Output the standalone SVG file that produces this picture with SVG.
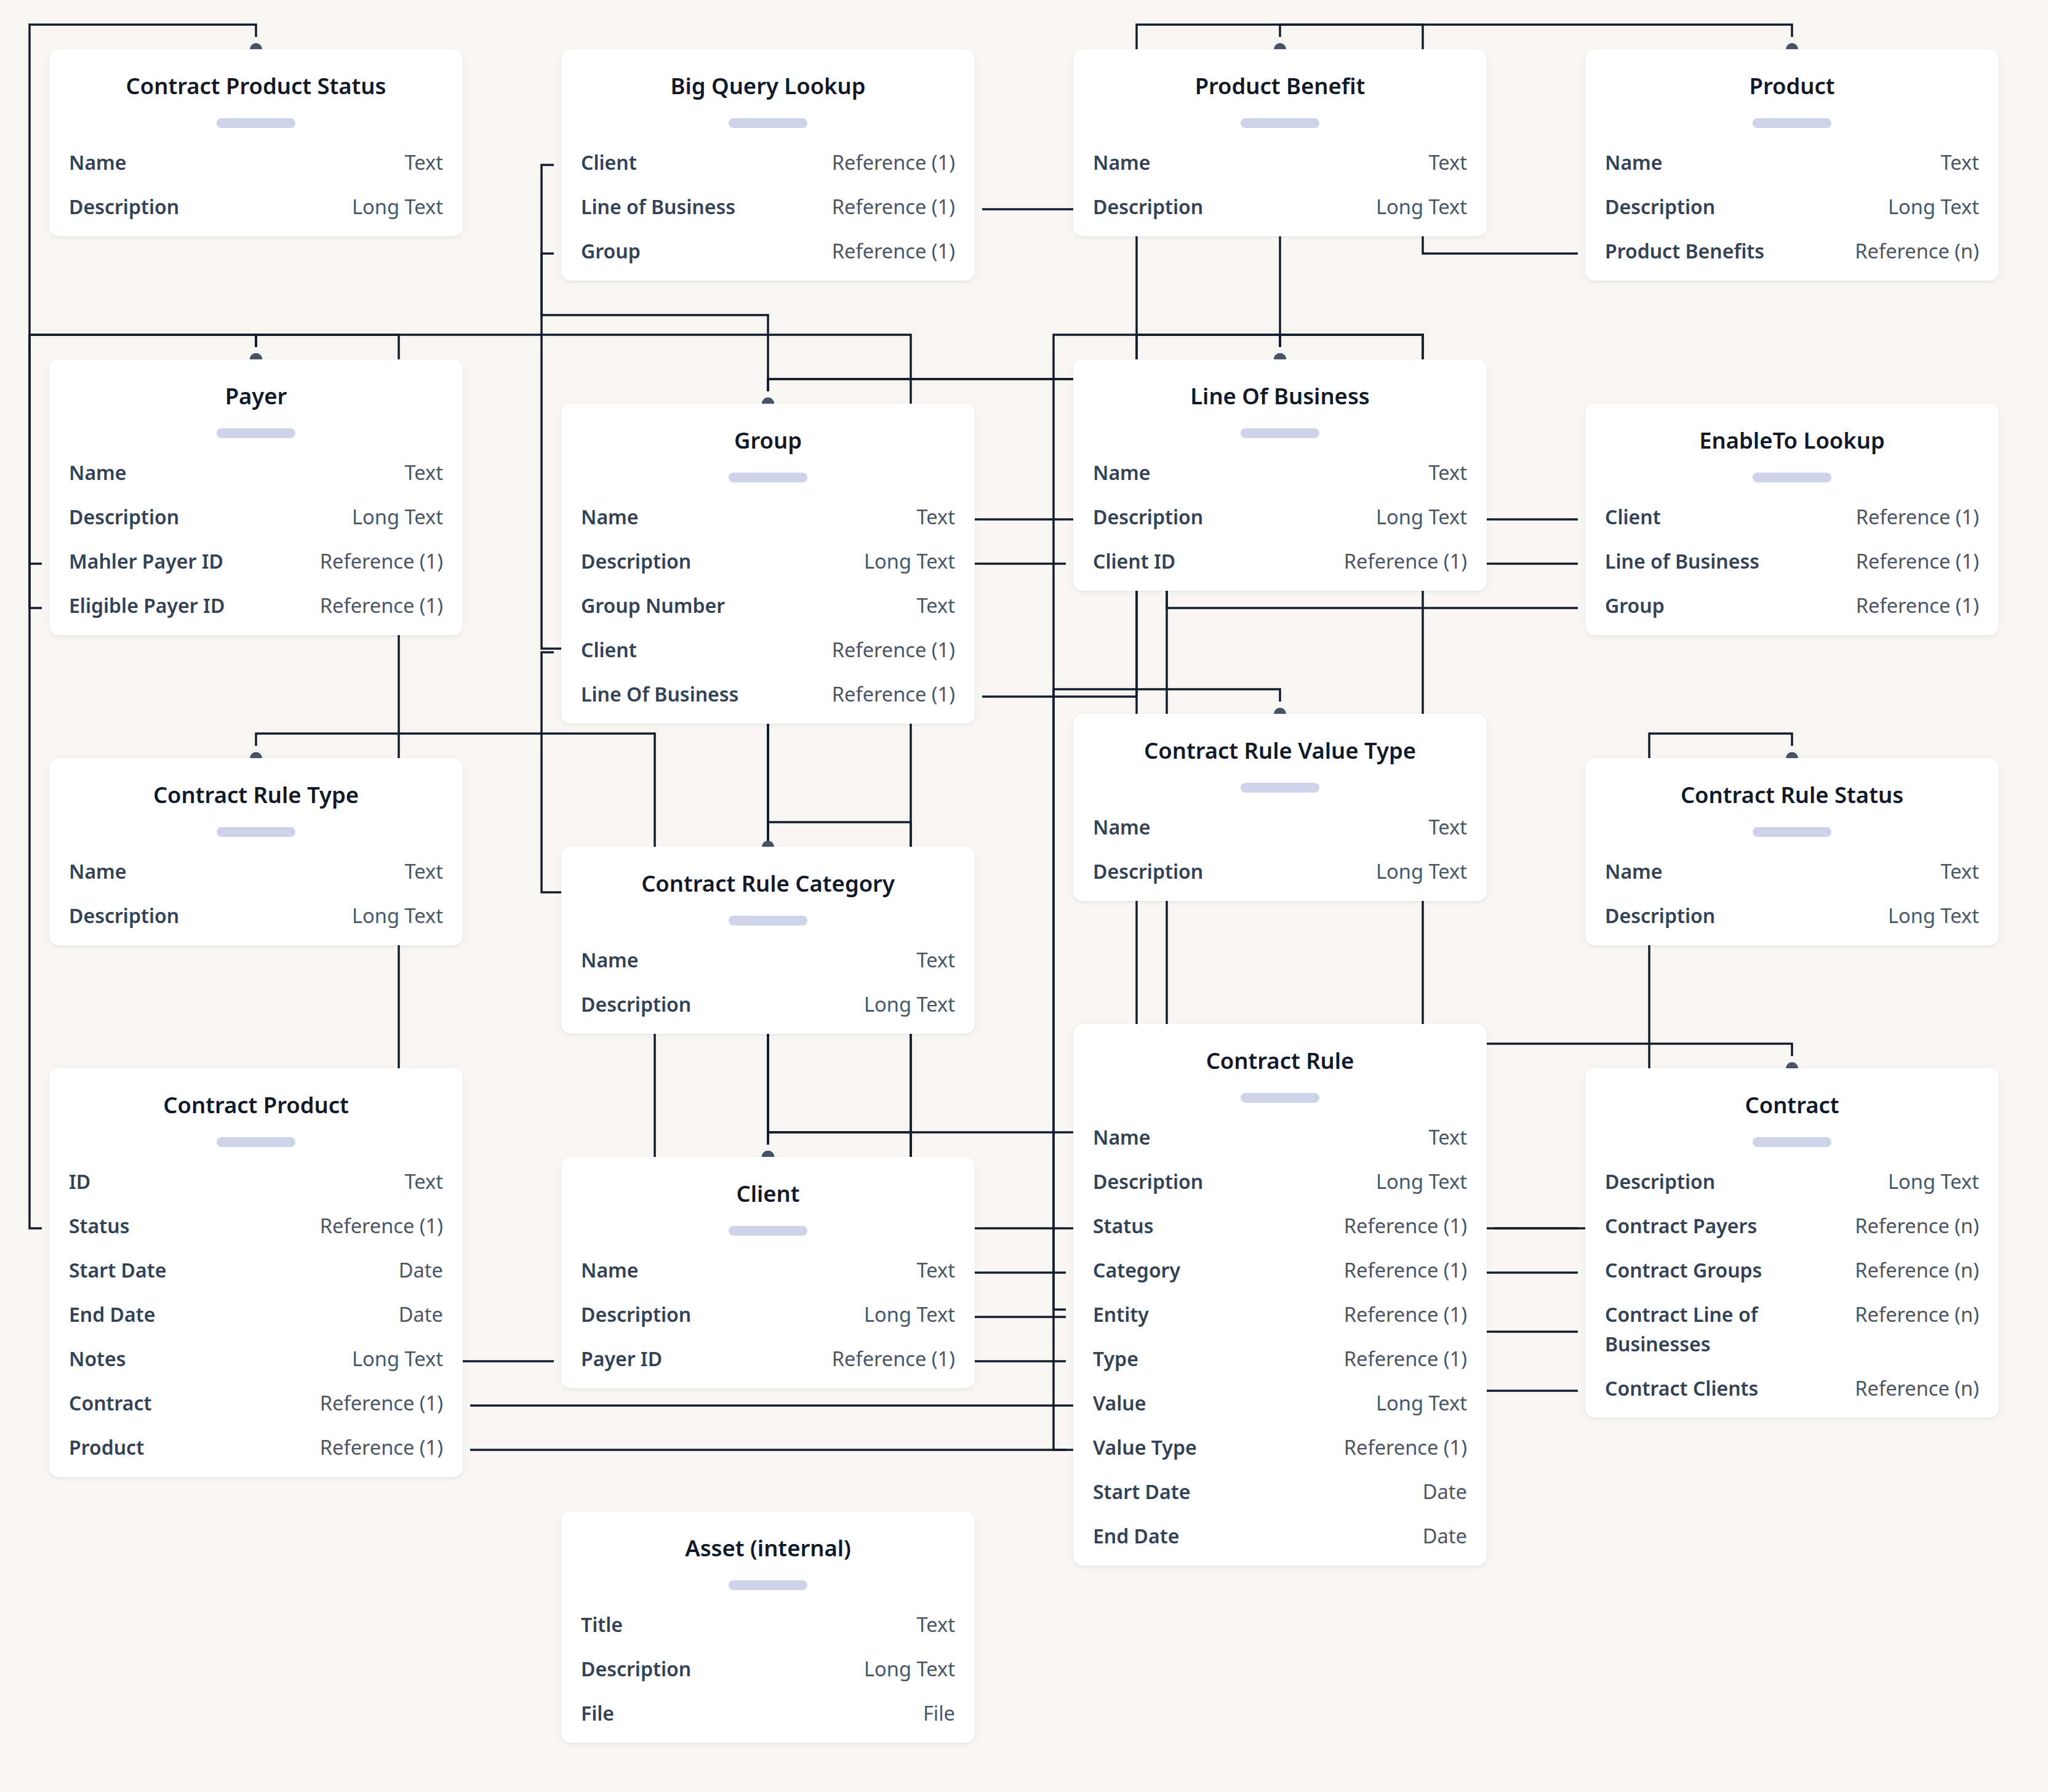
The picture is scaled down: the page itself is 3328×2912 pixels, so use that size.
<svg xmlns="http://www.w3.org/2000/svg" width="3328" height="2912" viewBox="0 0 3328 2912">
<defs>
<style>
.card{fill:#ffffff;filter:url(#sh)}
.title{font-family:"Noto Sans","Open Sans",sans-serif;font-size:36.4px;font-weight:600;fill:#111827;text-anchor:middle}
.pill{fill:#cdd3e8}
.lbl{font-family:"Noto Sans","Open Sans",sans-serif;font-size:32px;font-weight:600;fill:#334155}
.val{font-family:"Noto Sans","Open Sans",sans-serif;font-size:32.6px;font-weight:400;fill:#4b5563;text-anchor:end}
.conn path{fill:none;stroke:#151c2c;stroke-width:3.5;stroke-linejoin:miter;marker-end:url(#dot)}
</style>
<filter id="sh" x="-5%" y="-5%" width="110%" height="115%">
<feDropShadow dx="0" dy="2" stdDeviation="2.5" flood-color="#1f2937" flood-opacity="0.07"/>
</filter>
<marker id="dot" markerUnits="userSpaceOnUse" markerWidth="40" markerHeight="24" refX="0" refY="12" orient="auto" overflow="visible">
<circle cx="20" cy="12" r="10" fill="#455468"/>
</marker>
</defs>
<rect width="3328" height="2912" fill="#f7f6f2"/>

<g id="connectors" class="conn">
<path d="M68,1996 H48 V40 H416 V60"/>
<path d="M68,916 H48 V544 H416 V564"/>
<path d="M68,988 H48 V544 H416 V564"/>
<path d="M900,2212 H648 V544 H416 V564"/>
<path d="M2564,1996 H1480 V544 H416 V564"/>
<path d="M900,268 H880 V1054 H1248 V1860"/>
<path d="M900,412 H880 V512 H1248 V636"/>
<path d="M900,1060 H880 V1450 H1248 V1860"/>
<path d="M1732,916 H1248 V1860"/>
<path d="M2564,844 H1248 V1860"/>
<path d="M2564,2260 H2200 V1840 H1248 V1860"/>
<path d="M1732,2140 H1480 V1840 H1248 V1860"/>
<path d="M2564,988 H1896 V616 H1248 V636"/>
<path d="M2564,2068 H1896 V616 H1248 V636"/>
<path d="M1596,340 H2080 V564"/>
<path d="M1596,1132 H1847 V544 H2080 V564"/>
<path d="M2564,916 H2312 V544 H2080 V564"/>
<path d="M2564,2164 H2312 V544 H2080 V564"/>
<path d="M1732,2128 H1712 V544 H2080 V564"/>
<path d="M2564,412 H2312 V40 H2080 V60"/>
<path d="M764,2356 H1847 V40 H2912 V60"/>
<path d="M764,2284 H2360 V1696 H2912 V1716"/>
<path d="M2428,1996 H2680 V1192 H2912 V1212"/>
<path d="M1732,2068 H1480 V1336 H1248 V1356"/>
<path d="M1732,2212 H1064 V1192 H416 V1212"/>
<path d="M1732,2356 H1712 V1120 H2080 V1140"/>
</g>

<g id="contract-product-status">
<rect class="card" x="80" y="80" width="672" height="304" rx="16"/>
<text class="title" x="416" y="153">Contract Product Status</text>
<rect class="pill" x="352" y="192" width="128" height="16" rx="8"/>
<text class="lbl" x="112" y="276">Name</text><text class="val" x="720" y="276">Text</text>
<text class="lbl" x="112" y="348">Description</text><text class="val" x="720" y="348">Long Text</text>
</g>

<g id="payer">
<rect class="card" x="80" y="584" width="672" height="448" rx="16"/>
<text class="title" x="416" y="657">Payer</text>
<rect class="pill" x="352" y="696" width="128" height="16" rx="8"/>
<text class="lbl" x="112" y="780">Name</text><text class="val" x="720" y="780">Text</text>
<text class="lbl" x="112" y="852">Description</text><text class="val" x="720" y="852">Long Text</text>
<text class="lbl" x="112" y="924">Mahler Payer ID</text><text class="val" x="720" y="924">Reference (1)</text>
<text class="lbl" x="112" y="996">Eligible Payer ID</text><text class="val" x="720" y="996">Reference (1)</text>
</g>

<g id="contract-rule-type">
<rect class="card" x="80" y="1232" width="672" height="304" rx="16"/>
<text class="title" x="416" y="1305">Contract Rule Type</text>
<rect class="pill" x="352" y="1344" width="128" height="16" rx="8"/>
<text class="lbl" x="112" y="1428">Name</text><text class="val" x="720" y="1428">Text</text>
<text class="lbl" x="112" y="1500">Description</text><text class="val" x="720" y="1500">Long Text</text>
</g>

<g id="contract-product">
<rect class="card" x="80" y="1736" width="672" height="664" rx="16"/>
<text class="title" x="416" y="1809">Contract Product</text>
<rect class="pill" x="352" y="1848" width="128" height="16" rx="8"/>
<text class="lbl" x="112" y="1932">ID</text><text class="val" x="720" y="1932">Text</text>
<text class="lbl" x="112" y="2004">Status</text><text class="val" x="720" y="2004">Reference (1)</text>
<text class="lbl" x="112" y="2076">Start Date</text><text class="val" x="720" y="2076">Date</text>
<text class="lbl" x="112" y="2148">End Date</text><text class="val" x="720" y="2148">Date</text>
<text class="lbl" x="112" y="2220">Notes</text><text class="val" x="720" y="2220">Long Text</text>
<text class="lbl" x="112" y="2292">Contract</text><text class="val" x="720" y="2292">Reference (1)</text>
<text class="lbl" x="112" y="2364">Product</text><text class="val" x="720" y="2364">Reference (1)</text>
</g>

<g id="big-query-lookup">
<rect class="card" x="912" y="80" width="672" height="376" rx="16"/>
<text class="title" x="1248" y="153">Big Query Lookup</text>
<rect class="pill" x="1184" y="192" width="128" height="16" rx="8"/>
<text class="lbl" x="944" y="276">Client</text><text class="val" x="1552" y="276">Reference (1)</text>
<text class="lbl" x="944" y="348">Line of Business</text><text class="val" x="1552" y="348">Reference (1)</text>
<text class="lbl" x="944" y="420">Group</text><text class="val" x="1552" y="420">Reference (1)</text>
</g>

<g id="group">
<rect class="card" x="912" y="656" width="672" height="520" rx="16"/>
<text class="title" x="1248" y="729">Group</text>
<rect class="pill" x="1184" y="768" width="128" height="16" rx="8"/>
<text class="lbl" x="944" y="852">Name</text><text class="val" x="1552" y="852">Text</text>
<text class="lbl" x="944" y="924">Description</text><text class="val" x="1552" y="924">Long Text</text>
<text class="lbl" x="944" y="996">Group Number</text><text class="val" x="1552" y="996">Text</text>
<text class="lbl" x="944" y="1068">Client</text><text class="val" x="1552" y="1068">Reference (1)</text>
<text class="lbl" x="944" y="1140">Line Of Business</text><text class="val" x="1552" y="1140">Reference (1)</text>
</g>

<g id="contract-rule-category">
<rect class="card" x="912" y="1376" width="672" height="304" rx="16"/>
<text class="title" x="1248" y="1449">Contract Rule Category</text>
<rect class="pill" x="1184" y="1488" width="128" height="16" rx="8"/>
<text class="lbl" x="944" y="1572">Name</text><text class="val" x="1552" y="1572">Text</text>
<text class="lbl" x="944" y="1644">Description</text><text class="val" x="1552" y="1644">Long Text</text>
</g>

<g id="client">
<rect class="card" x="912" y="1880" width="672" height="376" rx="16"/>
<text class="title" x="1248" y="1953">Client</text>
<rect class="pill" x="1184" y="1992" width="128" height="16" rx="8"/>
<text class="lbl" x="944" y="2076">Name</text><text class="val" x="1552" y="2076">Text</text>
<text class="lbl" x="944" y="2148">Description</text><text class="val" x="1552" y="2148">Long Text</text>
<text class="lbl" x="944" y="2220">Payer ID</text><text class="val" x="1552" y="2220">Reference (1)</text>
</g>

<g id="asset-internal">
<rect class="card" x="912" y="2456" width="672" height="376" rx="16"/>
<text class="title" x="1248" y="2529">Asset (internal)</text>
<rect class="pill" x="1184" y="2568" width="128" height="16" rx="8"/>
<text class="lbl" x="944" y="2652">Title</text><text class="val" x="1552" y="2652">Text</text>
<text class="lbl" x="944" y="2724">Description</text><text class="val" x="1552" y="2724">Long Text</text>
<text class="lbl" x="944" y="2796">File</text><text class="val" x="1552" y="2796">File</text>
</g>

<g id="product-benefit">
<rect class="card" x="1744" y="80" width="672" height="304" rx="16"/>
<text class="title" x="2080" y="153">Product Benefit</text>
<rect class="pill" x="2016" y="192" width="128" height="16" rx="8"/>
<text class="lbl" x="1776" y="276">Name</text><text class="val" x="2384" y="276">Text</text>
<text class="lbl" x="1776" y="348">Description</text><text class="val" x="2384" y="348">Long Text</text>
</g>

<g id="line-of-business">
<rect class="card" x="1744" y="584" width="672" height="376" rx="16"/>
<text class="title" x="2080" y="657">Line Of Business</text>
<rect class="pill" x="2016" y="696" width="128" height="16" rx="8"/>
<text class="lbl" x="1776" y="780">Name</text><text class="val" x="2384" y="780">Text</text>
<text class="lbl" x="1776" y="852">Description</text><text class="val" x="2384" y="852">Long Text</text>
<text class="lbl" x="1776" y="924">Client ID</text><text class="val" x="2384" y="924">Reference (1)</text>
</g>

<g id="contract-rule-value-type">
<rect class="card" x="1744" y="1160" width="672" height="304" rx="16"/>
<text class="title" x="2080" y="1233">Contract Rule Value Type</text>
<rect class="pill" x="2016" y="1272" width="128" height="16" rx="8"/>
<text class="lbl" x="1776" y="1356">Name</text><text class="val" x="2384" y="1356">Text</text>
<text class="lbl" x="1776" y="1428">Description</text><text class="val" x="2384" y="1428">Long Text</text>
</g>

<g id="contract-rule">
<rect class="card" x="1744" y="1664" width="672" height="880" rx="16"/>
<text class="title" x="2080" y="1737">Contract Rule</text>
<rect class="pill" x="2016" y="1776" width="128" height="16" rx="8"/>
<text class="lbl" x="1776" y="1860">Name</text><text class="val" x="2384" y="1860">Text</text>
<text class="lbl" x="1776" y="1932">Description</text><text class="val" x="2384" y="1932">Long Text</text>
<text class="lbl" x="1776" y="2004">Status</text><text class="val" x="2384" y="2004">Reference (1)</text>
<text class="lbl" x="1776" y="2076">Category</text><text class="val" x="2384" y="2076">Reference (1)</text>
<text class="lbl" x="1776" y="2148">Entity</text><text class="val" x="2384" y="2148">Reference (1)</text>
<text class="lbl" x="1776" y="2220">Type</text><text class="val" x="2384" y="2220">Reference (1)</text>
<text class="lbl" x="1776" y="2292">Value</text><text class="val" x="2384" y="2292">Long Text</text>
<text class="lbl" x="1776" y="2364">Value Type</text><text class="val" x="2384" y="2364">Reference (1)</text>
<text class="lbl" x="1776" y="2436">Start Date</text><text class="val" x="2384" y="2436">Date</text>
<text class="lbl" x="1776" y="2508">End Date</text><text class="val" x="2384" y="2508">Date</text>
</g>

<g id="product">
<rect class="card" x="2576" y="80" width="672" height="376" rx="16"/>
<text class="title" x="2912" y="153">Product</text>
<rect class="pill" x="2848" y="192" width="128" height="16" rx="8"/>
<text class="lbl" x="2608" y="276">Name</text><text class="val" x="3216" y="276">Text</text>
<text class="lbl" x="2608" y="348">Description</text><text class="val" x="3216" y="348">Long Text</text>
<text class="lbl" x="2608" y="420">Product Benefits</text><text class="val" x="3216" y="420">Reference (n)</text>
</g>

<g id="enableto-lookup">
<rect class="card" x="2576" y="656" width="672" height="376" rx="16"/>
<text class="title" x="2912" y="729">EnableTo Lookup</text>
<rect class="pill" x="2848" y="768" width="128" height="16" rx="8"/>
<text class="lbl" x="2608" y="852">Client</text><text class="val" x="3216" y="852">Reference (1)</text>
<text class="lbl" x="2608" y="924">Line of Business</text><text class="val" x="3216" y="924">Reference (1)</text>
<text class="lbl" x="2608" y="996">Group</text><text class="val" x="3216" y="996">Reference (1)</text>
</g>

<g id="contract-rule-status">
<rect class="card" x="2576" y="1232" width="672" height="304" rx="16"/>
<text class="title" x="2912" y="1305">Contract Rule Status</text>
<rect class="pill" x="2848" y="1344" width="128" height="16" rx="8"/>
<text class="lbl" x="2608" y="1428">Name</text><text class="val" x="3216" y="1428">Text</text>
<text class="lbl" x="2608" y="1500">Description</text><text class="val" x="3216" y="1500">Long Text</text>
</g>

<g id="contract">
<rect class="card" x="2576" y="1736" width="672" height="568" rx="16"/>
<text class="title" x="2912" y="1809">Contract</text>
<rect class="pill" x="2848" y="1848" width="128" height="16" rx="8"/>
<text class="lbl" x="2608" y="1932">Description</text><text class="val" x="3216" y="1932">Long Text</text>
<text class="lbl" x="2608" y="2004">Contract Payers</text><text class="val" x="3216" y="2004">Reference (n)</text>
<text class="lbl" x="2608" y="2076">Contract Groups</text><text class="val" x="3216" y="2076">Reference (n)</text>
<text class="lbl" x="2608" y="2148">Contract Line of<tspan x="2608" y="2196">Businesses</tspan></text><text class="val" x="3216" y="2148">Reference (n)</text>
<text class="lbl" x="2608" y="2268">Contract Clients</text><text class="val" x="3216" y="2268">Reference (n)</text>
</g>
</svg>
